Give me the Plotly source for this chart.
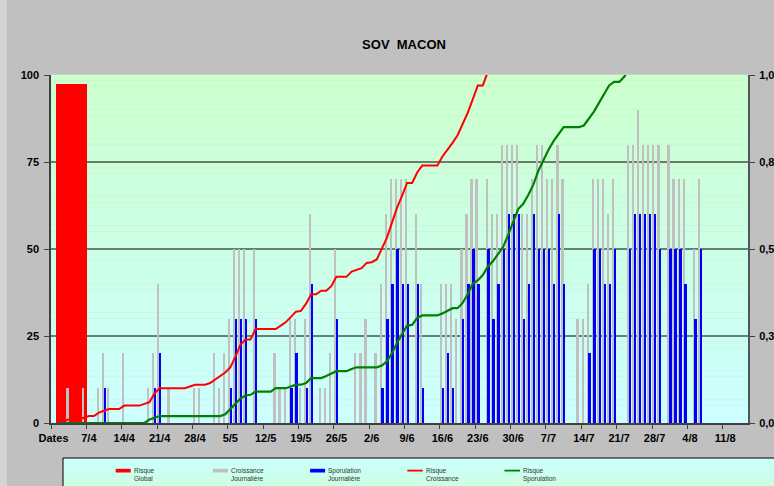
import plotly.graph_objects as go

# ---------------- data ----------------
tick_labels = ["Dates", "7/4", "14/4", "21/4", "28/4", "5/5", "12/5", "19/5", "26/5", "2/6",
               "9/6", "16/6", "23/6", "30/6", "7/7", "14/7", "21/7", "28/7", "4/8", "11/8"]
label_step = 7          # one label every 7 days
n_days = 138            # categories shown on the axis ("Dates" + 1/4 .. 15/8)

# daily bars (index 0 = "Dates", 1 = 1/4, ...)
croissance_journaliere = [
    0, 0, 0, 10, 0, 0, 10, 0, 0, 10,
    20, 10, 0, 0, 20, 0, 0, 0, 0, 10,
    20, 40, 0, 10, 0, 0, 0, 0, 10, 10,
    0, 0, 20, 10, 20, 30, 50, 50, 50, 0,
    50, 0, 0, 0, 20, 10, 10, 30, 30, 10,
    30, 60, 0, 10, 10, 20, 50, 0, 0, 0,
    20, 20, 30, 0, 20, 40, 60, 70, 70, 70,
    70, 0, 60, 40, 0, 0, 0, 40, 40, 40,
    30, 50, 60, 70, 70, 0, 70, 60, 60, 80,
    80, 80, 80, 60, 60, 70, 80, 80, 70, 70,
    80, 70, 0, 0, 30, 30, 40, 70, 70, 70,
    60, 70, 0, 0, 80, 80, 90, 80, 80, 80,
    80, 0, 80, 70, 70, 70, 0, 50, 70, 0,
    0, 0, 0, 0, 0, 0, 0, 0]
sporulation_journaliere = [
    0, 0, 0, 0, 0, 0, 0, 0, 0, 0,
    10, 0, 0, 0, 0, 0, 0, 0, 0, 0,
    10, 20, 0, 0, 0, 0, 0, 0, 0, 0,
    0, 0, 0, 0, 0, 10, 30, 30, 30, 0,
    30, 0, 0, 0, 0, 0, 0, 10, 20, 0,
    10, 40, 0, 0, 0, 0, 30, 0, 0, 0,
    0, 0, 0, 0, 0, 10, 30, 40, 50, 40,
    40, 0, 40, 10, 0, 0, 0, 10, 20, 10,
    0, 30, 40, 50, 40, 0, 50, 30, 40, 50,
    60, 60, 60, 30, 40, 60, 50, 50, 50, 40,
    60, 40, 0, 0, 0, 0, 20, 50, 50, 40,
    40, 50, 0, 0, 50, 60, 60, 60, 60, 60,
    50, 0, 50, 50, 50, 40, 0, 30, 50, 0,
    0, 0, 0, 0, 0, 0, 0, 0]

# cumulative risks (start at day index 1 = 1/4), right axis 0..1
risque_croissance = [
    0.005, 0.005, 0.010, 0.010, 0.010, 0.015, 0.020, 0.020, 0.030, 0.035,
    0.040, 0.040, 0.040, 0.050, 0.050, 0.050, 0.050, 0.055, 0.060, 0.085,
    0.100, 0.100, 0.100, 0.100, 0.100, 0.100, 0.105, 0.110, 0.110, 0.110,
    0.115, 0.125, 0.135, 0.145, 0.160, 0.190, 0.225, 0.240, 0.240, 0.270,
    0.270, 0.270, 0.270, 0.270, 0.280, 0.290, 0.305, 0.320, 0.322, 0.343,
    0.370, 0.370, 0.380, 0.380, 0.393, 0.420, 0.420, 0.420, 0.435, 0.440,
    0.445, 0.460, 0.462, 0.470, 0.500, 0.532, 0.575, 0.618, 0.653, 0.690,
    0.690, 0.720, 0.740, 0.740, 0.740, 0.740, 0.766, 0.784, 0.805, 0.827,
    0.857, 0.891, 0.930, 0.970, 0.970, 1.010, 1.050, 1.090]
risque_sporulation = [
    0, 0, 0, 0, 0, 0, 0, 0, 0, 0,
    0, 0, 0, 0, 0, 0, 0, 0, 0.010, 0.015,
    0.020, 0.020, 0.020, 0.020, 0.020, 0.020, 0.020, 0.020, 0.020, 0.020,
    0.020, 0.020, 0.020, 0.025, 0.040, 0.055, 0.070, 0.079, 0.081, 0.090,
    0.090, 0.090, 0.090, 0.100, 0.100, 0.100, 0.105, 0.110, 0.110, 0.115,
    0.129, 0.129, 0.129, 0.135, 0.143, 0.149, 0.149, 0.149, 0.155, 0.160,
    0.160, 0.160, 0.160, 0.160, 0.165, 0.177, 0.200, 0.230, 0.255, 0.280,
    0.282, 0.302, 0.309, 0.309, 0.309, 0.309, 0.315, 0.323, 0.330, 0.330,
    0.345, 0.370, 0.400, 0.410, 0.425, 0.450, 0.465, 0.485, 0.505, 0.540,
    0.580, 0.615, 0.630, 0.655, 0.685, 0.725, 0.755, 0.785, 0.810, 0.830,
    0.850, 0.850, 0.850, 0.850, 0.855, 0.875, 0.895, 0.920, 0.945, 0.970,
    0.980, 0.980, 0.995, 1.020, 1.040]

risque_global = 97.5
global_first_day, global_last_day = 1, 6

right_ticks = [0, 0.25, 0.5, 0.75, 1.0]
right_labels = ["0,0", "0,3", "0,5", "0,8", "1,0"]
left_ticks = [0, 25, 50, 75, 100]

legend_entries = [("Risque", "Global"), ("Croissance", "Journalière"),
                  ("Sporulation", "Journalière"), ("Risque", "Croissance"),
                  ("Risque", "Sporulation")]

# ---------------- styling ----------------
W, H = 774, 486
L, R, T, B = 51, 748, 75, 423
FONT = "Liberation Sans, Arial, sans-serif"
C_RED, C_GREY, C_BLUE, C_GREEN = "#FF0000", "#C0C0C0", "#0000FF", "#008000"
AX = "#404040"
TICKFONT = dict(family=FONT, size=11, color="#000000", weight="bold")


def px(x):
    return (x - L) / (R - L)


def py(y):
    return (B - y) / (B - T)


days = list(range(len(croissance_journaliere)))
fig = go.Figure()

# Risque Global (wide red column)
fig.add_trace(go.Bar(
    x=[(global_first_day + global_last_day) / 2], y=[risque_global],
    width=[global_last_day - global_first_day + 1.1],
    marker=dict(color=C_RED, line=dict(width=0)), name="Risque Global",
    showlegend=False, yaxis="y"))

fig.add_trace(go.Bar(
    x=days, y=croissance_journaliere, width=0.34, offset=-0.36,
    marker=dict(color=C_GREY, line=dict(width=0)), name="Croissance Journalière",
    showlegend=False, yaxis="y"))
fig.add_trace(go.Bar(
    x=days, y=sporulation_journaliere, width=0.36, offset=0.0,
    marker=dict(color=C_BLUE, line=dict(width=0)), name="Sporulation Journalière",
    showlegend=False, yaxis="y"))

fig.add_trace(go.Scatter(
    x=list(range(1, 1 + len(risque_croissance))), y=risque_croissance,
    mode="lines", line=dict(color=C_RED, width=2), name="Risque Croissance",
    showlegend=False, yaxis="y2"))
fig.add_trace(go.Scatter(
    x=list(range(1, 1 + len(risque_sporulation))), y=risque_sporulation,
    mode="lines", line=dict(color=C_GREEN, width=2.2), name="Risque Sporulation",
    showlegend=False, yaxis="y2"))

shapes = []
# light strip at the far left of the picture
shapes.append(dict(type="rect", xref="paper", yref="paper",
                   x0=px(-2), x1=px(7), y0=py(H + 5), y1=py(-5),
                   fillcolor="#D4D4D4", line=dict(width=0), layer="below"))
# plot-area gradient (light green top -> light cyan bottom)
nb = 60
for i in range(nb):
    t = (i + 0.5) / nb
    b = int(round(204 + (255 - 204) * t))
    shapes.append(dict(type="rect", xref="paper", yref="paper",
                       x0=0, x1=1, y0=1 - (i + 1) / nb, y1=1 - i / nb + 0.001,
                       fillcolor=f"rgb(204,255,{b})", line=dict(width=0), layer="below"))
# horizontal gridlines
for v in left_ticks[1:-1]:
    shapes.append(dict(type="line", xref="paper", yref="y", x0=0, x1=1, y0=v, y1=v,
                       line=dict(color="#000000", width=1), layer="below"))

# legend box
lg_top, lg_bot, lg_left, lg_right = 458, 494, 63, 800
nl = 12
for i in range(nl):
    t = (i + 0.5) / nl
    b = int(round(255 - (255 - 215) * t))
    y0p = lg_top + (lg_bot - lg_top) * i / nl
    y1p = lg_top + (lg_bot - lg_top) * (i + 1) / nl
    shapes.append(dict(type="rect", xref="paper", yref="paper",
                       x0=px(lg_left), x1=px(lg_right), y0=py(y1p) - 0.001, y1=py(y0p),
                       fillcolor=f"rgb(204,255,{b})", line=dict(width=0), layer="above"))
shapes.append(dict(type="rect", xref="paper", yref="paper",
                   x0=px(lg_left), x1=px(lg_right), y0=py(lg_bot), y1=py(lg_top),
                   fillcolor="rgba(0,0,0,0)", line=dict(color="#000000", width=1),
                   layer="above"))

annotations = []
legend_styles = [("bar", C_RED), ("bar", C_GREY), ("bar", C_BLUE),
                 ("line", C_RED), ("line", C_GREEN)]
for i, ((l1, l2), (kind, col)) in enumerate(zip(legend_entries, legend_styles)):
    x0 = 115.7 + i * 97.2
    if kind == "bar":
        shapes.append(dict(type="rect", xref="paper", yref="paper",
                           x0=px(x0), x1=px(x0 + 15), y0=py(472.5), y1=py(468.8),
                           fillcolor=col, line=dict(width=0), layer="above"))
    else:
        shapes.append(dict(type="line", xref="paper", yref="paper",
                           x0=px(x0), x1=px(x0 + 15.5), y0=py(470.6), y1=py(470.6),
                           line=dict(color=col, width=1.8), layer="above"))
    annotations.append(dict(xref="paper", yref="paper", x=px(x0 + 16.3), y=py(474.6),
                            xanchor="left", yanchor="middle", align="left",
                            text=f"{l1}<br>{l2}", showarrow=False,
                            font=dict(family=FONT, size=6.5, color="#333333")))

tick_pos = [i * label_step for i in range(len(tick_labels))]

fig.update_layout(
    template="none",
    width=W, height=H, autosize=False,
    margin=dict(l=L, r=W - R, t=T, b=H - B, pad=0, autoexpand=False),
    paper_bgcolor="#C0C0C0", plot_bgcolor="rgba(0,0,0,0)",
    barmode="overlay", bargap=0,
    showlegend=False,
    title=dict(text="<b>SOV  MACON</b>", x=404 / W, xref="container", xanchor="center",
               y=1 - 44 / H, yref="container", yanchor="middle",
               font=dict(family=FONT, size=13, color="#000000")),
    xaxis=dict(range=[-0.5, n_days - 0.5], tickmode="array", tickvals=tick_pos,
               ticktext=tick_labels, ticks="outside", ticklen=4, automargin=False,
               tickcolor="rgba(0,0,0,0)", showgrid=False, zeroline=False,
               showline=True, linecolor=AX, linewidth=1.5,
               tickfont=TICKFONT,
               minor=dict(tickmode="array", tickvals=[p - 0.5 for p in tick_pos],
                          ticks="outside", ticklen=4, tickcolor=AX, tickwidth=1,
                          showgrid=False)),
    yaxis=dict(range=[0, 100], tickmode="array", tickvals=left_ticks, automargin=False,
               ticks="outside", ticklen=5, tickcolor=AX, showgrid=False,
               zeroline=False, showline=True, linecolor=AX, linewidth=1.5,
               ticklabelstandoff=3, tickfont=TICKFONT),
    yaxis2=dict(range=[0, 1], overlaying="y", side="right", tickmode="array",
                tickvals=right_ticks, ticktext=right_labels, ticks="outside",
                automargin=False,
                ticklen=5, tickcolor=AX, showgrid=False, zeroline=False,
                showline=True, linecolor="#4a5858", linewidth=2,
                ticklabelstandoff=2, tickfont=TICKFONT),
    shapes=shapes, annotations=annotations,
)

fig.write_html(
    "out.html",
    config={"responsive": False, "displayModeBar": False},
    post_script="document.body.style.margin='0';document.body.style.overflow='hidden';",
)
